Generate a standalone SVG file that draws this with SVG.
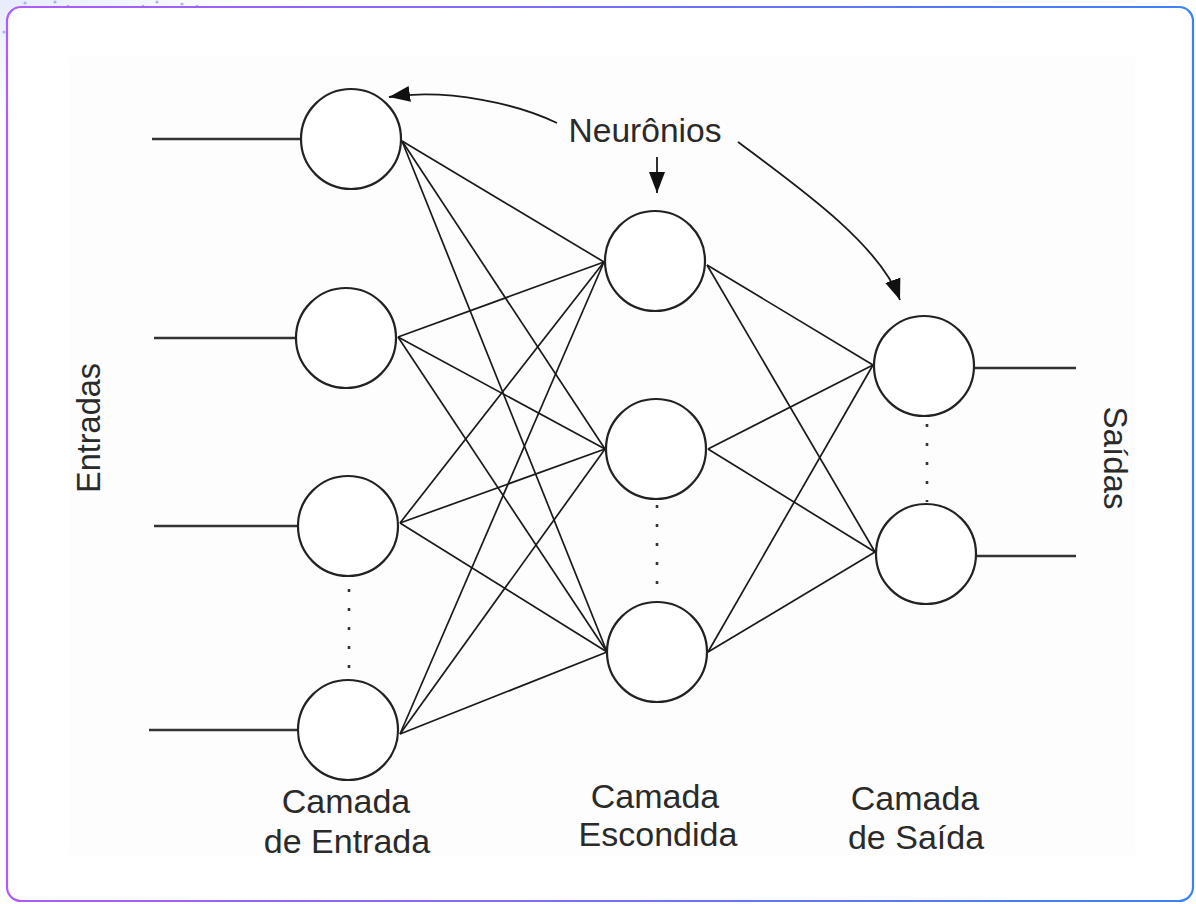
<svg xmlns="http://www.w3.org/2000/svg" width="1196" height="904" viewBox="0 0 1196 904">
  <defs>
    <linearGradient id="frameGrad" x1="0" y1="0" x2="1" y2="0">
      <stop offset="0" stop-color="#b05cf7"/>
      <stop offset="1" stop-color="#3b82f6"/>
    </linearGradient>
    <radialGradient id="bgGlow" cx="0" cy="0" r="1" gradientUnits="userSpaceOnUse" gradientTransform="translate(0,0) scale(260,120)">
      <stop offset="0" stop-color="#e6ecfb"/>
      <stop offset="1" stop-color="#ffffff"/>
    </radialGradient>
    <marker id="arrow" markerUnits="userSpaceOnUse" markerWidth="22" markerHeight="18" refX="21" refY="9" orient="auto">
      <path d="M0,1 L21,9 L0,17 z" fill="#111"/>
    </marker>
    <style>
      .node { fill: #ffffff; stroke: #222; stroke-width: 2.2; }
      .conn { stroke: #1a1a1a; stroke-width: 1.7; fill: none; }
      .io { stroke: #333; stroke-width: 2.6; fill: none; }
      .dots { stroke: #333; stroke-width: 2.6; stroke-dasharray: 3 16; fill: none; }
      .pointer { stroke: #1a1a1a; stroke-width: 1.8; fill: none; marker-end: url(#arrow); }
      .lbl { font-family: "Liberation Sans", Arial, sans-serif; font-size: 34px; fill: #2a2a2a; text-anchor: middle; }
    </style>
  </defs>

  <!-- page background -->
  <rect x="0" y="0" width="1196" height="904" fill="url(#bgGlow)"/>
  <g fill="#9aa6ee" opacity="0.8">
    <circle cx="25" cy="3" r="1.6"/>
    <circle cx="55" cy="2" r="1.6"/>
    <circle cx="68" cy="6" r="1.3"/>
    <circle cx="143" cy="6" r="1.3"/>
    <circle cx="157" cy="2" r="1.6"/>
    <circle cx="182" cy="4" r="1.6"/>
    <circle cx="197" cy="6" r="1.3"/>
    <circle cx="4" cy="32" r="1.6"/>
  </g>
  <rect x="7" y="7" width="1186" height="894" rx="14" ry="14" fill="#ffffff" stroke="url(#frameGrad)" stroke-width="2.2"/>
  <rect x="69" y="57" width="1066" height="798" fill="#fdfdfd"/>

  <!-- connectors -->
  <g id="connectors">
    <!-- inputs -->
    <line class="io" x1="152" y1="139" x2="300" y2="139"/>
    <line class="io" x1="154" y1="338" x2="295" y2="338"/>
    <line class="io" x1="154" y1="526" x2="297" y2="526"/>
    <line class="io" x1="149" y1="730" x2="297" y2="730"/>
    <!-- outputs -->
    <line class="io" x1="974" y1="368" x2="1076" y2="368"/>
    <line class="io" x1="976" y1="556" x2="1076" y2="556"/>
    <!-- input -> hidden -->
    <line class="conn" x1="402" y1="141" x2="604" y2="262"/>
    <line class="conn" x1="402" y1="141" x2="605" y2="449"/>
    <line class="conn" x1="402" y1="141" x2="607" y2="652"/>
    <line class="conn" x1="398" y1="337" x2="604" y2="262"/>
    <line class="conn" x1="398" y1="337" x2="605" y2="449"/>
    <line class="conn" x1="398" y1="337" x2="607" y2="652"/>
    <line class="conn" x1="400" y1="523" x2="604" y2="262"/>
    <line class="conn" x1="400" y1="523" x2="605" y2="449"/>
    <line class="conn" x1="400" y1="523" x2="607" y2="652"/>
    <line class="conn" x1="400" y1="734" x2="604" y2="262"/>
    <line class="conn" x1="400" y1="734" x2="605" y2="449"/>
    <line class="conn" x1="400" y1="734" x2="607" y2="652"/>
    <!-- hidden -> output -->
    <line class="conn" x1="707" y1="265" x2="873" y2="365"/>
    <line class="conn" x1="707" y1="265" x2="875" y2="552"/>
    <line class="conn" x1="708" y1="449" x2="873" y2="365"/>
    <line class="conn" x1="708" y1="449" x2="875" y2="552"/>
    <line class="conn" x1="708" y1="652" x2="873" y2="365"/>
    <line class="conn" x1="708" y1="652" x2="875" y2="552"/>
    <!-- ellipsis dots -->
    <line class="dots" x1="349" y1="589" x2="349" y2="672"/>
    <line class="dots" x1="657" y1="505" x2="657" y2="600"/>
    <line class="dots" x1="927" y1="424" x2="927" y2="502"/>
    <!-- pointers from "Neurônios" -->
    <path class="pointer" d="M557,123 C520,105 450,88 389,97"/>
    <path class="pointer" d="M657,157 L657,193"/>
    <path class="pointer" d="M738,142 C800,188 880,245 900,300"/>
  </g>

  <!-- input layer -->
  <g id="in1"><circle class="node" cx="351" cy="139" r="50"/></g>
  <g id="in2"><circle class="node" cx="346" cy="338" r="50"/></g>
  <g id="in3"><circle class="node" cx="348" cy="526" r="50"/></g>
  <g id="in4"><circle class="node" cx="348" cy="730" r="50"/></g>

  <!-- hidden layer -->
  <g id="hid1"><circle class="node" cx="655" cy="261" r="50"/></g>
  <g id="hid2"><circle class="node" cx="656" cy="449" r="50"/></g>
  <g id="hid3"><circle class="node" cx="657" cy="652" r="50"/></g>

  <!-- output layer -->
  <g id="out1"><circle class="node" cx="924" cy="366" r="50"/></g>
  <g id="out2"><circle class="node" cx="926" cy="554" r="50"/></g>

  <!-- labels -->
  <g id="label-neuronios"><text class="lbl" x="645" y="142" textLength="153" lengthAdjust="spacingAndGlyphs">Neurônios</text></g>
  <g id="label-entradas"><text class="lbl" transform="translate(100,428) rotate(-90)" textLength="130" lengthAdjust="spacingAndGlyphs">Entradas</text></g>
  <g id="label-saidas"><text class="lbl" transform="translate(1104,458) rotate(90)" textLength="103" lengthAdjust="spacingAndGlyphs">Saídas</text></g>
  <g id="label-camada-entrada">
    <text class="lbl" x="346" y="813">Camada</text>
    <text class="lbl" x="347" y="853">de Entrada</text>
  </g>
  <g id="label-camada-escondida">
    <text class="lbl" x="655" y="808">Camada</text>
    <text class="lbl" x="658" y="846">Escondida</text>
  </g>
  <g id="label-camada-saida">
    <text class="lbl" x="915" y="810">Camada</text>
    <text class="lbl" x="916" y="849">de Saída</text>
  </g>
</svg>
